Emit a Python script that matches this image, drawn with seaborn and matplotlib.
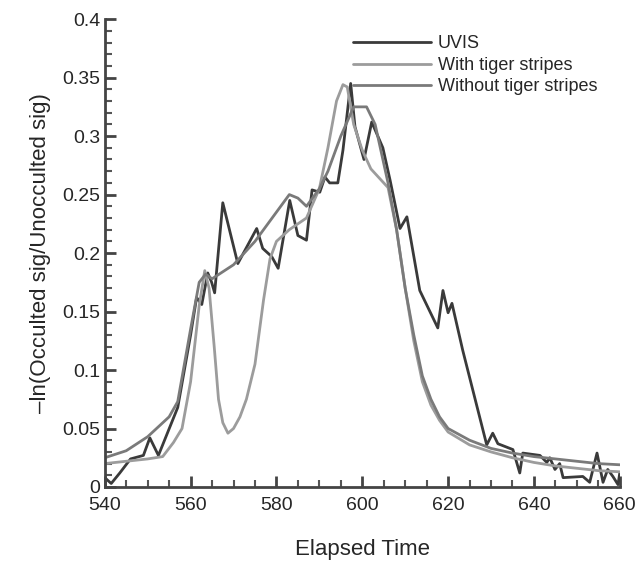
import numpy as np
import pandas as pd
import matplotlib
matplotlib.use("Agg")
import matplotlib.pyplot as plt
import seaborn as sns
from matplotlib.ticker import MultipleLocator, FormatStrFormatter

# ── Data ──────────────────────────────────────────────────────
uvis_t = [540, 541.5, 543.5, 546, 549, 550.5, 552.5, 557, 560, 561.4, 562.6, 564, 564.9,
          565.6, 567.5, 571, 575.4, 576.8, 578.9, 580.4, 583.1, 585, 587, 588.3, 590.1,
          591.3, 592.4, 594.3, 595.5, 597.3, 598.3, 600.4, 602.2, 604.8, 606.5, 608.8,
          610.4, 613.4, 617.6, 618.8, 620, 620.9, 623.4, 629, 630.4, 631.6, 635.1,
          636.7, 637.4, 641.4, 643, 643.7, 644.9, 646, 646.8, 651.4, 653, 654.7,
          656.1, 657.2, 658.4, 659.6, 660]
uvis_v = [0.008, 0.003, 0.012, 0.024, 0.027, 0.042, 0.027, 0.068, 0.13, 0.162, 0.156,
          0.183, 0.175, 0.166, 0.243, 0.191, 0.221, 0.204, 0.197, 0.187, 0.245, 0.215,
          0.211, 0.254, 0.252, 0.265, 0.26, 0.26, 0.288, 0.345, 0.308, 0.28, 0.312,
          0.29, 0.262, 0.221, 0.231, 0.168, 0.136, 0.168, 0.149, 0.157, 0.117, 0.036,
          0.046, 0.037, 0.032, 0.012, 0.029, 0.027, 0.021, 0.025, 0.015, 0.02, 0.008,
          0.009, 0.004, 0.029, 0.004, 0.015, 0.009, 0.002, 0.012]

with_t = [540, 545, 550, 553.5, 556, 558, 560, 562, 563.3, 564.3, 565.5, 566.5, 567.5,
          568.7, 570, 571.5, 573, 575, 577, 578.5, 580, 583, 587, 590, 592, 594, 595.5,
          596.5, 598, 600, 602, 606, 608, 610, 612, 614, 616, 618, 620, 625, 630, 635,
          640, 645, 650, 655, 660]
with_v = [0.020, 0.022, 0.024, 0.026, 0.038, 0.050, 0.090, 0.155, 0.185, 0.170, 0.120,
          0.075, 0.055, 0.046, 0.050, 0.060, 0.075, 0.105, 0.160, 0.195, 0.210, 0.220,
          0.230, 0.255, 0.290, 0.330, 0.344, 0.342, 0.310, 0.288, 0.272, 0.256, 0.220,
          0.170, 0.125, 0.090, 0.070, 0.057, 0.047, 0.036, 0.030, 0.025, 0.021, 0.018,
          0.016, 0.014, 0.013]

without_t = [540, 545, 550, 555, 557, 560, 562, 563.5, 565, 570, 575, 580, 583, 585, 587,
             590, 592, 595, 598, 601, 603, 606, 608, 610, 612, 614, 616, 618, 620, 625,
             630, 635, 640, 645, 650, 655, 660]
without_v = [0.025, 0.031, 0.043, 0.060, 0.073, 0.135, 0.175, 0.182, 0.178, 0.190, 0.210,
             0.235, 0.250, 0.247, 0.240, 0.255, 0.270, 0.300, 0.325, 0.325, 0.310, 0.260,
             0.220, 0.170, 0.130, 0.095, 0.075, 0.060, 0.050, 0.040, 0.033, 0.029, 0.026,
             0.024, 0.022, 0.020, 0.019]

series = [
    ("UVIS", uvis_t, uvis_v, "#3a3a3a"),
    ("With tiger stripes", with_t, with_v, "#9c9c9c"),
    ("Without tiger stripes", without_t, without_v, "#7a7a7a"),
]

# ── Style ─────────────────────────────────────────────────────
sns.set_style("ticks")
plt.rcParams["font.family"] = ["Liberation Sans", "DejaVu Sans"]

fig = plt.figure(figsize=(6.35, 5.63), dpi=100)
ax = fig.add_axes([0.165, 0.135, 0.811, 0.831])

for name, t, v, col in series:
    df = pd.DataFrame({"t": t, "v": v})
    sns.lineplot(data=df, x="t", y="v", ax=ax, color=col, lw=2.0,
                 label=name, sort=False, estimator=None)

ax.set_xlim(540, 660)
ax.set_ylim(0, 0.4)
ax.xaxis.set_major_locator(MultipleLocator(20))
ax.xaxis.set_minor_locator(MultipleLocator(5))
ax.yaxis.set_major_locator(MultipleLocator(0.05))
ax.yaxis.set_minor_locator(MultipleLocator(0.01))
ax.yaxis.set_major_formatter(FormatStrFormatter("%g"))

ax.tick_params(which="major", direction="in", length=8, width=2, color="#444444",
               labelsize=14, pad=3)
ax.tick_params(axis="x", which="major", pad=7)
ax.tick_params(which="minor", direction="in", length=5, width=1.5, color="#555555")
for side in ["top", "right"]:
    ax.spines[side].set_visible(False)
for side in ["left", "bottom"]:
    ax.spines[side].set_linewidth(2)
    ax.spines[side].set_color("#444444")

ax.set_xlabel("Elapsed Time", fontsize=16, labelpad=18)
ax.set_ylabel("\u2013ln(Occulted sig/Unocculted sig)", fontsize=16, labelpad=8)

ax.legend(loc="upper left", bbox_to_anchor=(0.556, 0.937), bbox_transform=fig.transFigure,
          frameon=False, fontsize=13, handlelength=4.3, handletextpad=0.4,
          labelspacing=0.25, borderaxespad=0, borderpad=0)

plt.savefig("out.png", dpi=100, facecolor="white")
